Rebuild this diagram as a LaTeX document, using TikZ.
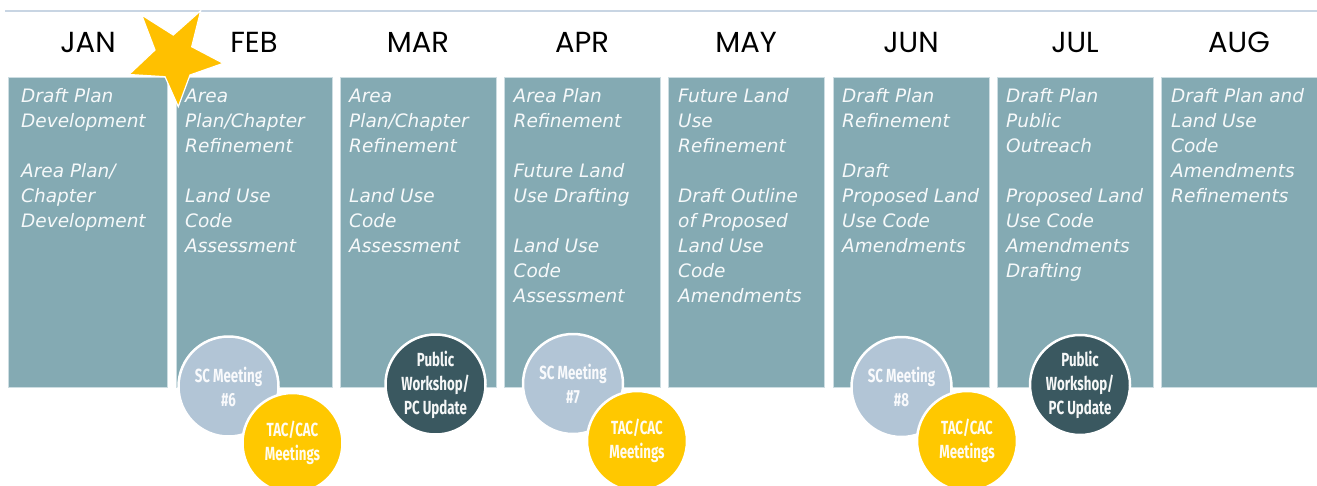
\documentclass[tikz,border=0pt]{standalone}
\usepackage{fontspec}
\newfontfamily\boxfont{DejaVu Sans}
\newfontfamily\monthfont{Poppins}
\newfontfamily\circfont[FakeStretch=0.7]{Fira Sans}
\definecolor{boxc}{RGB}{132,170,179}
\definecolor{boxedge}{RGB}{205,221,226}
\definecolor{scc}{RGB}{178,197,214}
\definecolor{tacc}{RGB}{255,200,0}
\definecolor{pwc}{RGB}{58,88,96}
\definecolor{starc}{RGB}{255,192,0}
\definecolor{linec}{RGB}{200,213,227}
\definecolor{txtc}{RGB}{246,249,250}
\tikzset{
  colbox/.style={draw=boxedge, line width=1pt, fill=boxc, anchor=north west, minimum height=310, inner sep=0pt},
  coltext/.style={anchor=north west, inner sep=0pt, align=left, text=txtc,
    font=\boxfont\itshape\fontsize{18.5}{25}\selectfont},
  month/.style={anchor=base, font=\monthfont\fontsize{29}{32}\selectfont, text=black},
  evcirc/.style={circle, draw=white, line width=2.5pt, minimum size=100, inner sep=0pt, align=center,
    font=\circfont\bfseries\fontsize{19}{24}\selectfont},
  sccirc/.style={evcirc, fill=scc, text=white!92!scc},
  taccirc/.style={evcirc, fill=tacc, text=white!95!tacc},
  pwcirc/.style={evcirc, fill=pwc, text=white!95!pwc},
  starshape/.style={fill=starc, draw=white, line width=1.2pt, line join=miter},
}
\begin{document}
\begin{tikzpicture}[x=1pt, y=-1pt]
\useasboundingbox (0,0) rectangle (1317,485);
\clip (0,0) rectangle (1317,485);
% top rule
\coordinate (rl) at (5,11);
\coordinate (rr) at (1317,11);
\draw[linec, line width=1.5pt] (rl) -- (rr);
% boxes
\node[colbox, minimum width=159] (bjan) at (8,77) {};
\node[colbox, minimum width=156] (bfeb) at (176,77) {};
\node[colbox, minimum width=156] (bmar) at (340,77) {};
\node[colbox, minimum width=156] (bapr) at (504,77) {};
\node[colbox, minimum width=156] (bmay) at (668,77) {};
\node[colbox, minimum width=156] (bjun) at (833,77) {};
\node[colbox, minimum width=156] (bjul) at (997,77) {};
\node[colbox, minimum width=160] (baug) at (1161,77) {};
% months
\node[month] (mjan) at (88,52) {JAN};
\node[month] (mfeb) at (254,52) {FEB};
\node[month] (mmar) at (418,52) {MAR};
\node[month] (mapr) at (582,52) {APR};
\node[month] (mmay) at (746,52) {MAY};
\node[month] (mjun) at (911,52) {JUN};
\node[month] (mjul) at (1075,52) {JUL};
\node[month] (maug) at (1239,52) {AUG};
% texts
\node[coltext] (tjan) at (21,84.5) {\strut Draft Plan\\Development\\[25pt]Area Plan/\\Chapter\\Development};
\node[coltext] (tfeb) at (185,84.5) {\strut Area\\Plan/Chapter\\Refinement\\[25pt]Land Use\\Code\\Assessment};
\node[coltext] (tmar) at (349,84.5) {\strut Area\\Plan/Chapter\\Refinement\\[25pt]Land Use\\Code\\Assessment};
\node[coltext] (tapr) at (513.5,84.5) {\strut Area Plan\\Refinement\\[25pt]Future Land\\Use Drafting\\[25pt]Land Use\\Code\\Assessment};
\node[coltext] (tmay) at (678,84.5) {\strut Future Land\\Use\\Refinement\\[25pt]Draft Outline\\of Proposed\\Land Use\\Code\\Amendments};
\node[coltext] (tjun) at (842,84.5) {\strut Draft Plan\\Refinement\\[25pt]Draft\\Proposed Land\\Use Code\\Amendments};
\node[coltext] (tjul) at (1006,84.5) {\strut Draft Plan\\Public\\Outreach\\[25pt]Proposed Land\\Use Code\\Amendments\\Drafting};
\node[coltext] (taug) at (1171,84.5) {\strut Draft Plan and\\Land Use\\Code\\Amendments\\Refinements};
% star
\draw[starshape]
  (200.7,10.7) -- (191.7,46.7) -- (223.3,63.3) -- (190,75) -- (178.3,106.7)
  -- (165,76.7) -- (129,74.5) -- (155,50) -- (141.7,15) -- (173.3,35) -- cycle;
% event circles
\node[sccirc] (sc6) at (228.5,386.5) {SC Meeting\\\#6};
\node[taccirc] (tac1) at (292.5,443) {TAC/CAC\\Meetings};
\node[pwcirc] (pw1) at (435.5,384.5) {Public\\Workshop/\\PC Update};
\node[sccirc] (sc7) at (573,384) {SC Meeting\\\#7};
\node[taccirc] (tac2) at (637,441) {TAC/CAC\\Meetings};
\node[sccirc] (sc8) at (901.5,387) {SC Meeting\\\#8};
\node[taccirc] (tac3) at (967,441) {TAC/CAC\\Meetings};
\node[pwcirc] (pw2) at (1080,385) {Public\\Workshop/\\PC Update};
\end{tikzpicture}
\end{document}
